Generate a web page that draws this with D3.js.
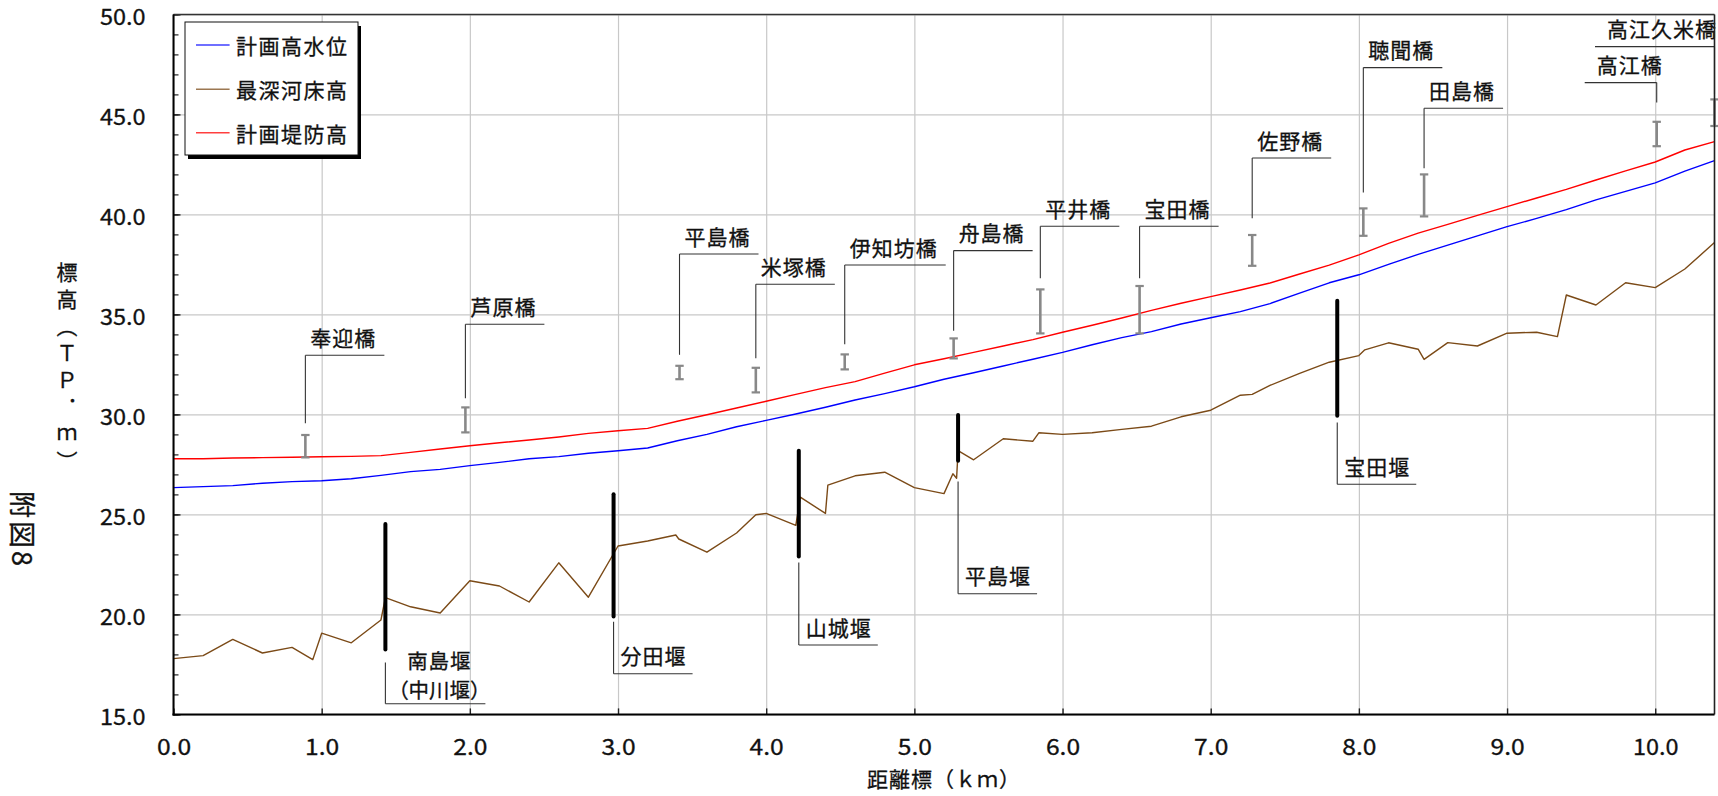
<!DOCTYPE html>
<html><head><meta charset="utf-8">
<script src="https://cdn.jsdelivr.net/npm/d3@7"></script>
<style>
body{margin:0;background:#fff;}
svg{display:block;font-family:"Noto Sans CJK JP","Noto Sans",sans-serif;}
svg text{stroke:#111;stroke-width:0.3px;}
</style></head><body>
<svg id="chart" width="1718" height="796"></svg>
<script>
// ---------------- data ----------------
const seriesNames = ["計画高水位", "最深河床高", "計画堤防高"];
const seriesColors = ["#0000ff", "#7b4a17", "#ff0000"];

const planKm = [0.0,0.2,0.4,0.6,0.8,1.0,1.2,1.4,1.6,1.8,2.0,2.2,2.4,2.6,2.8,3.0,3.2,3.4,3.6,3.8,4.0,4.2,4.4,4.6,4.8,5.0,5.2,5.4,5.6,5.8,6.0,6.2,6.4,6.6,6.8,7.0,7.2,7.4,7.6,7.8,8.0,8.2,8.4,8.6,8.8,9.0,9.2,9.4,9.6,9.8,10.0,10.2,10.4];
const planHWL = [26.34,26.39,26.44,26.56,26.64,26.68,26.78,26.95,27.14,27.25,27.44,27.60,27.78,27.89,28.06,28.18,28.32,28.68,29.00,29.38,29.70,30.02,30.36,30.72,31.04,31.38,31.76,32.08,32.42,32.76,33.10,33.48,33.84,34.14,34.52,34.83,35.14,35.54,36.06,36.58,36.98,37.50,38.00,38.46,38.93,39.39,39.80,40.24,40.73,41.15,41.58,42.16,42.69];
const planLevee = [27.78,27.78,27.82,27.84,27.86,27.88,27.90,27.94,28.10,28.27,28.43,28.58,28.72,28.87,29.05,29.18,29.30,29.66,29.98,30.32,30.66,31.00,31.34,31.64,32.06,32.48,32.78,33.10,33.42,33.74,34.11,34.46,34.82,35.20,35.56,35.89,36.22,36.57,37.02,37.46,37.98,38.55,39.06,39.50,39.95,40.39,40.82,41.25,41.72,42.18,42.62,43.22,43.64];

const bedKm = [0.0,0.2,0.4,0.6,0.8,0.94,1.0,1.2,1.4,1.43,1.6,1.8,2.0,2.2,2.4,2.6,2.8,3.0,3.2,3.39,3.41,3.6,3.8,3.93,4.0,4.2,4.23,4.4,4.416,4.6,4.8,5.0,5.2,5.26,5.285,5.295,5.4,5.6,5.8,5.84,6.0,6.2,6.4,6.6,6.8,7.0,7.2,7.28,7.4,7.6,7.8,8.0,8.04,8.2,8.4,8.44,8.6,8.8,9.0,9.2,9.34,9.4,9.6,9.8,10.0,10.2,10.4];
const bedElev = [17.79,17.94,18.75,18.07,18.35,17.74,19.06,18.58,19.72,20.84,20.38,20.07,21.68,21.42,20.62,22.58,20.86,23.42,23.67,23.97,23.77,23.11,24.07,24.98,25.05,24.45,25.86,25.05,26.46,26.93,27.11,26.34,26.04,27.03,26.81,28.19,27.73,28.78,28.66,29.08,29.00,29.08,29.25,29.41,29.88,30.21,30.96,31.00,31.45,32.05,32.61,32.94,33.23,33.58,33.26,32.75,33.59,33.42,34.06,34.11,33.89,35.97,35.47,36.58,36.34,37.27,38.59];

const xTicks = [0,1,2,3,4,5,6,7,8,9,10];
const xTickLabels = ["0.0","1.0","2.0","3.0","4.0","5.0","6.0","7.0","8.0","9.0","10.0"];
const yTicks = [15,20,25,30,35,40,45,50];
const yTickLabels = ["15.0","20.0","25.0","30.0","35.0","40.0","45.0","50.0"];

// bridges (橋): km, marker range, leader start and label level (elevation)
const bridgeNames = ["奉迎橋","芦原橋","平島橋","米塚橋","伊知坊橋","舟島橋","平井橋","宝田橋","佐野橋","聴聞橋","田島橋","高江橋","高江久米橋"];
const bridgeKm = [0.89,1.97,3.415,3.93,4.53,5.265,5.85,6.52,7.28,8.03,8.44,10.01,10.4];
const bridgeLow = [27.85,29.10,31.76,31.10,32.25,32.80,34.05,34.05,37.43,38.93,39.90,43.41,44.42];
const bridgeHigh = [28.97,30.35,32.43,32.33,33.00,33.80,36.25,36.42,38.97,40.30,42.00,44.63,45.75];
const bridgeLeaderFrom = [29.56,30.81,32.98,32.81,33.51,34.18,36.81,36.81,39.81,41.09,42.31,45.59,46.0];
const bridgeLabelLevel = [32.96,34.51,38.02,36.51,37.47,38.19,39.41,39.41,42.82,47.34,45.31,46.59,48.39];

// weirs (堰)
const weirNames = ["南島堰","分田堰","山城堰","平島堰","宝田堰"];
const weirSubNames = ["（中川堰）","","","",""];
const weirKm = [1.43,2.97,4.22,5.295,7.854];
const weirTop = [24.52,26.01,28.18,29.97,35.68];
const weirBottom = [18.25,19.90,22.90,27.68,29.93];
const weirLeaderFrom = [17.59,19.63,22.59,26.64,29.59];
const weirLabelLevel = [15.53,17.03,18.47,21.03,26.51];

const xTitle = "距離標（ｋｍ）";
const yTitle = "標高（ＴＰ．ｍ）";
const sheetLabel = "附図8";

// ---------------- chart ----------------
const svg = d3.select("#chart");
const x = d3.scaleLinear().domain([0, 10.4]).range([173.5, 1714.5]);
const y = d3.scaleLinear().domain([15, 50]).range([714.4, 14.4]);
const X0 = x(0), X1 = x(10.4), Y0 = y(15), Y1 = y(50);

svg.append("rect").attr("width",1718).attr("height",796).attr("fill","#fff");

// grid
svg.append("g").attr("transform", `translate(0,${Y0})`)
  .call(d3.axisBottom(x).tickValues(xTicks).tickSize(-(Y0 - Y1)).tickFormat(""))
  .call(g => g.select(".domain").remove())
  .call(g => g.selectAll("line").attr("stroke", "#c8c8c8").attr("stroke-width", 1.2));
svg.append("g").attr("transform", `translate(${X0},0)`)
  .call(d3.axisLeft(y).tickValues(yTicks).tickSize(-(X1 - X0)).tickFormat(""))
  .call(g => g.select(".domain").remove())
  .call(g => g.selectAll("line").attr("stroke", "#c8c8c8").attr("stroke-width", 1.2));

// series lines
const line = d3.line().x(d => x(d[0])).y(d => y(d[1]));
const seriesData = [d3.zip(planKm, planHWL), d3.zip(bedKm, bedElev), d3.zip(planKm, planLevee)];
seriesData.forEach((d, i) => {
  svg.append("path").datum(d).attr("d", line).attr("fill", "none")
    .attr("stroke", seriesColors[i]).attr("stroke-width", 1.4).attr("stroke-linejoin", "round");
});

// bridge markers and labels
const labelFont = 21;
bridgeNames.forEach((name, i) => {
  const bx = x(bridgeKm[i]);
  const g = svg.append("g");
  const yl = y(bridgeLow[i]), yh = y(bridgeHigh[i]);
  g.append("line").attr("x1", bx).attr("x2", bx).attr("y1", yl).attr("y2", yh)
    .attr("stroke", "#888").attr("stroke-width", 2.6);
  [yl, yh].forEach(v => g.append("line").attr("x1", bx - 4.2).attr("x2", bx + 4.2)
    .attr("y1", v).attr("y2", v).attr("stroke", "#888").attr("stroke-width", 2.2));
  const yu = y(bridgeLabelLevel[i]);
  g.append("line").attr("x1", bx).attr("x2", bx).attr("y1", y(bridgeLeaderFrom[i])).attr("y2", yu)
    .attr("stroke", "#333").attr("stroke-width", 1.1);
  const left = bridgeKm[i] > 9.5;
  const t = g.append("text").text(name).attr("font-size", labelFont).attr("letter-spacing", 1)
    .attr("fill", "#111").attr("y", yu - 9.5);
  const w = t.node().getComputedTextLength();
  if (left) {
    const tEnd = Math.min(bx + 6, 1717);
    t.attr("x", tEnd - w);
    g.append("line").attr("x1", tEnd - w - 12).attr("x2", bx).attr("y1", yu).attr("y2", yu)
      .attr("stroke", "#333").attr("stroke-width", 1.1);
  } else {
    t.attr("x", bx + 5);
    g.append("line").attr("x1", bx).attr("x2", bx + 5 + w + 8).attr("y1", yu).attr("y2", yu)
      .attr("stroke", "#333").attr("stroke-width", 1.1);
  }
});

// weirs
weirNames.forEach((name, i) => {
  const wx = x(weirKm[i]);
  const g = svg.append("g");
  g.append("line").attr("x1", wx).attr("x2", wx).attr("y1", y(weirTop[i])).attr("y2", y(weirBottom[i]))
    .attr("stroke", "#000").attr("stroke-width", 4).attr("stroke-linecap", "round");
  const yu = y(weirLabelLevel[i]);
  g.append("line").attr("x1", wx).attr("x2", wx).attr("y1", y(weirLeaderFrom[i])).attr("y2", yu)
    .attr("stroke", "#333").attr("stroke-width", 1.1);
  if (weirSubNames[i]) {
    const cx = wx + 54;
    g.append("text").text(name).attr("font-size", 20.5).attr("fill", "#111")
      .attr("text-anchor", "middle").attr("x", cx).attr("y", yu - 35).attr("letter-spacing", 1);
    g.append("text").text(weirSubNames[i]).attr("font-size", 20.5).attr("fill", "#111")
      .attr("text-anchor", "middle").attr("x", cx).attr("y", yu - 5.5).attr("letter-spacing", 0);
    g.append("line").attr("x1", wx).attr("x2", wx + 100).attr("y1", yu).attr("y2", yu)
      .attr("stroke", "#333").attr("stroke-width", 1.1);
  } else {
    const t = g.append("text").text(name).attr("font-size", labelFont).attr("letter-spacing", 1)
      .attr("fill", "#111").attr("x", wx + 7).attr("y", yu - 9.5);
    const w = t.node().getComputedTextLength();
    g.append("line").attr("x1", wx).attr("x2", wx + 7 + w + 6).attr("y1", yu).attr("y2", yu)
      .attr("stroke", "#333").attr("stroke-width", 1.1);
  }
});

// inner ticks
svg.append("g").attr("transform", `translate(${X0},0)`)
  .call(d3.axisRight(y).ticks(35).tickSize(5).tickFormat(""))
  .call(g => g.select(".domain").remove())
  .call(g => g.selectAll("line").attr("stroke", "#222").attr("stroke-width", 1.2));
svg.append("g").attr("transform", `translate(${X0},0)`)
  .call(d3.axisRight(y).tickValues(yTicks).tickSize(7).tickFormat(""))
  .call(g => g.select(".domain").remove())
  .call(g => g.selectAll("line").attr("stroke", "#222").attr("stroke-width", 1.4));
svg.append("g").attr("transform", `translate(0,${Y0})`)
  .call(d3.axisTop(x).tickValues(xTicks).tickSize(6).tickFormat(""))
  .call(g => g.select(".domain").remove())
  .call(g => g.selectAll("line").attr("stroke", "#222").attr("stroke-width", 1.4));

// tick labels
const tickFont = 22, charW = 11.4;
svg.append("g").attr("transform", `translate(${X0},0)`)
  .call(d3.axisLeft(y).tickValues(yTicks).tickSize(0).tickPadding(28)
    .tickFormat((d, i) => yTickLabels[i]))
  .call(g => g.select(".domain").remove())
  .call(g => g.selectAll("text").attr("font-size", tickFont).attr("fill", "#111").attr("dy", "0.45em")
    .attr("font-family", '"Noto Sans CJK JP",sans-serif')
    .attr("textLength", function(){ return this.textContent.length * charW; })
    .attr("lengthAdjust", "spacingAndGlyphs"));
svg.append("g").attr("transform", `translate(0,${Y0})`)
  .call(d3.axisBottom(x).tickValues(xTicks).tickSize(0).tickPadding(25)
    .tickFormat((d, i) => xTickLabels[i]))
  .call(g => g.select(".domain").remove())
  .call(g => g.selectAll("text").attr("font-size", tickFont).attr("fill", "#111")
    .attr("font-family", '"Noto Sans CJK JP",sans-serif')
    .attr("textLength", function(){ return this.textContent.length * charW; })
    .attr("lengthAdjust", "spacingAndGlyphs"));

// frame
svg.append("line").attr("x1", X0).attr("x2", X1).attr("y1", Y1).attr("y2", Y1).attr("stroke", "#333").attr("stroke-width", 1.5);
svg.append("line").attr("x1", X1).attr("x2", X1).attr("y1", Y1).attr("y2", Y0).attr("stroke", "#222").attr("stroke-width", 1.6);
svg.append("line").attr("x1", X0).attr("x2", X0).attr("y1", Y1).attr("y2", Y0 + 1).attr("stroke", "#000").attr("stroke-width", 2);
svg.append("line").attr("x1", X0 - 1).attr("x2", X1).attr("y1", Y0).attr("y2", Y0).attr("stroke", "#000").attr("stroke-width", 2);

// axis titles
svg.append("text").text(xTitle).attr("x", (X0 + X1) / 2).attr("y", 787)
  .attr("text-anchor", "middle").attr("font-size", 21).attr("letter-spacing", 1).attr("fill", "#111");

svg.append("text").text(yTitle).attr("x", 67).attr("y", 262)
  .attr("writing-mode", "vertical-rl").style("writing-mode", "vertical-rl")
  .attr("font-size", 21).attr("letter-spacing", 6).attr("fill", "#111");

svg.append("text").text(sheetLabel).attr("transform", "translate(23,491) rotate(90)")
  .attr("font-size", 27).attr("letter-spacing", 3).attr("dominant-baseline", "central").attr("fill", "#111");

// legend
const lg = svg.append("g");
lg.append("rect").attr("x", 188).attr("y", 26).attr("width", 173).attr("height", 133).attr("fill", "#000");
lg.append("rect").attr("x", 185).attr("y", 22).attr("width", 173).attr("height", 133)
  .attr("fill", "#fff").attr("stroke", "#111").attr("stroke-width", 1);
const legendRows = [45, 89.3, 132.7];
seriesNames.forEach((n, i) => {
  lg.append("line").attr("x1", 196).attr("x2", 229.6).attr("y1", legendRows[i]).attr("y2", legendRows[i])
    .attr("stroke", seriesColors[i]).attr("stroke-width", 1.4).attr("opacity", 0.75);
  lg.append("text").text(n).attr("x", 236).attr("y", legendRows[i]).attr("dominant-baseline", "central")
    .attr("font-size", 21).attr("letter-spacing", 1.5).attr("fill", "#111");
});
</script>
</body></html>
